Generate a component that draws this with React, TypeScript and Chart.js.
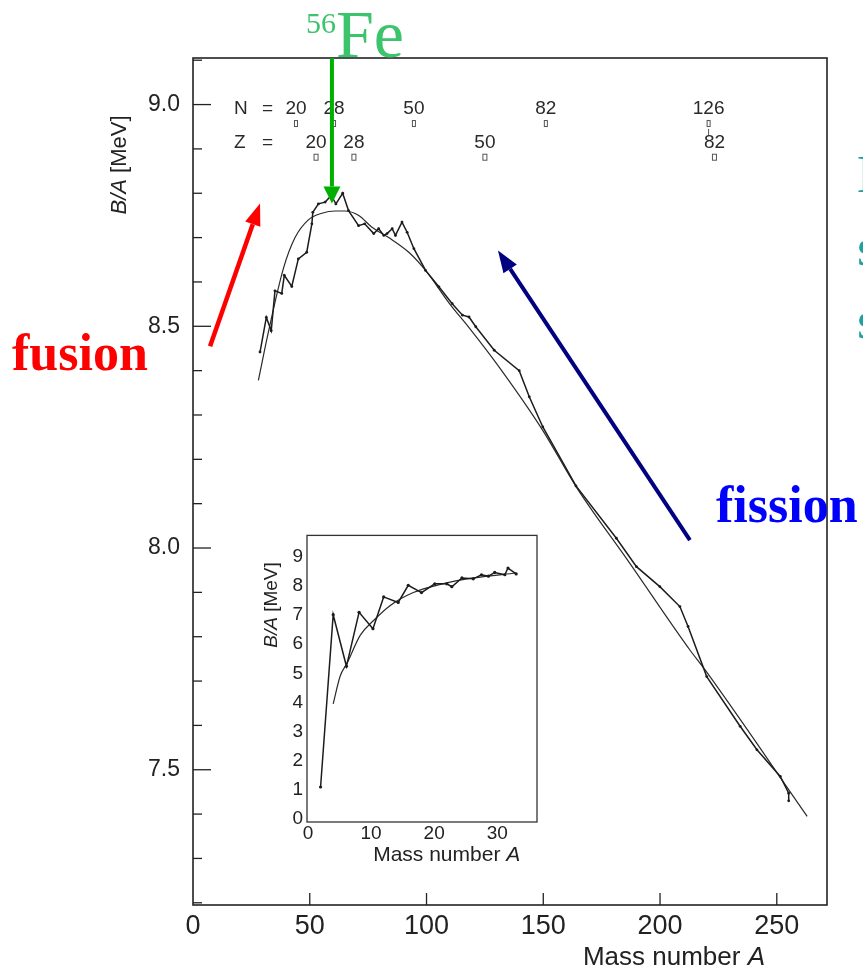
import React, { useEffect, useRef } from 'react';
import { Chart, registerables } from 'chart.js';
Chart.register(...registerables);

// ---------- Main chart data (mass number A, B/A in MeV) ----------
const expA = [28.7, 31.4, 33.5, 35.1, 38, 39.1, 42.3, 45.1, 48.7, 50.9, 51.3, 53.7, 56.6, 59.2, 61.2, 64.1, 66.6, 70.9, 73.5, 77.4, 79.5, 81.7, 83.1, 85.3, 86.7, 89.5, 91.7, 94.6, 99.6, 105.3, 111, 115.4, 118.2, 121.1, 129, 139.7, 144, 149.8, 164, 181.3, 189.9, 199.9, 208.5, 212, 220, 234.3, 241.5, 251.5, 255.1, 255.1];
const expBA = [8.442, 8.52, 8.49, 8.58, 8.574, 8.615, 8.59, 8.652, 8.667, 8.731, 8.757, 8.776, 8.78, 8.795, 8.776, 8.8, 8.761, 8.727, 8.731, 8.709, 8.72, 8.705, 8.709, 8.72, 8.705, 8.735, 8.712, 8.675, 8.626, 8.589, 8.551, 8.525, 8.521, 8.499, 8.446, 8.4, 8.341, 8.273, 8.14, 8.022, 7.958, 7.913, 7.868, 7.823, 7.71, 7.598, 7.545, 7.485, 7.447, 7.43];

const fitA = [28, 32, 38.7, 43.7, 49.4, 55.2, 61, 65, 71, 76.5, 83.8, 92.4, 99.6, 110, 118.2, 131.1, 149.7, 164.1, 187, 212.8, 219.3, 263];
const fitBA = [8.378, 8.48, 8.63, 8.7, 8.74, 8.755, 8.76, 8.76, 8.75, 8.724, 8.7, 8.667, 8.626, 8.55, 8.497, 8.408, 8.266, 8.138, 7.966, 7.77, 7.725, 7.395];

const xTicks = [0, 50, 100, 150, 200, 250];
const xTickLabels = ['0', '50', '100', '150', '200', '250'];
const yTicks = [7.5, 8.0, 8.5, 9.0];
const yTickLabels = ['7.5', '8.0', '8.5', '9.0'];

// magic numbers (annotation row)
const magicNLabels = ['20', '28', '50', '82', '126'];
const magicNA = [44.1, 60.4, 94.6, 151.1, 220.8];
const magicZLabels = ['20', '28', '50', '82'];
const magicZA = [52.7, 68.9, 125.0, 223.3];

// ---------- Inset data ----------
const insetExpA = [2, 4, 6.1, 8.1, 10.3, 12, 14.3, 15.9, 18, 20.1, 22, 22.8, 24.4, 26.2, 27.5, 28.6, 29.6, 31.2, 31.7, 33.0];
const insetExpBA = [1.1, 7.01, 5.24, 7.09, 6.53, 7.62, 7.43, 8.02, 7.77, 8.07, 8.07, 7.97, 8.27, 8.24, 8.38, 8.33, 8.46, 8.38, 8.61, 8.41];
const insetFitA = [4, 5.1, 6.2, 8.3, 10.4, 13, 16.7, 21, 26.2, 33];
const insetFitBA = [3.95, 4.9, 5.35, 6.31, 6.81, 7.32, 7.77, 8.05, 8.27, 8.44];
const insetXTicks = [0, 10, 20, 30];
const insetXTickLabels = ['0', '10', '20', '30'];
const insetYTicks = [0, 1, 2, 3, 4, 5, 6, 7, 8, 9];
const insetYTickLabels = ['0', '1', '2', '3', '4', '5', '6', '7', '8', '9'];

const SANS = '"Liberation Sans", Arial, Helvetica, sans-serif';
const SERIF = '"Liberation Serif", "Times New Roman", Times, serif';

function arrow(ctx: CanvasRenderingContext2D, x1: number, y1: number, x2: number, y2: number, color: string, lw: number, headLen: number, headW: number) {
  const ang = Math.atan2(y2 - y1, x2 - x1);
  const bx = x2 - headLen * Math.cos(ang);
  const by = y2 - headLen * Math.sin(ang);
  ctx.save();
  ctx.strokeStyle = color;
  ctx.lineWidth = lw;
  ctx.beginPath();
  ctx.moveTo(x1, y1);
  ctx.lineTo(bx, by);
  ctx.stroke();
  ctx.fillStyle = color;
  ctx.beginPath();
  ctx.moveTo(x2, y2);
  ctx.lineTo(bx + (headW / 2) * Math.sin(ang), by - (headW / 2) * Math.cos(ang));
  ctx.lineTo(bx - (headW / 2) * Math.sin(ang), by + (headW / 2) * Math.cos(ang));
  ctx.closePath();
  ctx.fill();
  ctx.restore();
}

const mainDecor = {
  id: 'mainDecor',
  beforeDatasetsDraw(chart: any) {
    const { ctx, chartArea: a, scales } = chart;
    const xs = scales.x, ys = scales.y;
    ctx.save();
    ctx.strokeStyle = '#222';
    ctx.lineWidth = 1.6;
    ctx.strokeRect(a.left, a.top, a.right - a.left, a.bottom - a.top);
    // inward ticks
    ctx.lineWidth = 1.3;
    for (let v = 7.2; v <= 9.1; v += 0.1) {
      const y = ys.getPixelForValue(v);
      const major = Math.abs(v * 2 - Math.round(v * 2)) < 1e-6;
      ctx.beginPath();
      ctx.moveTo(a.left, y);
      ctx.lineTo(a.left + (major ? 18 : 9), y);
      ctx.stroke();
    }
    xTicks.forEach((v) => {
      if (v === 0) return;
      const x = xs.getPixelForValue(v);
      ctx.beginPath();
      ctx.moveTo(x, a.bottom);
      ctx.lineTo(x, a.bottom - 12);
      ctx.stroke();
    });
    // magic numbers
    ctx.fillStyle = '#2a2a2a';
    ctx.font = `19px ${SANS}`;
    ctx.textBaseline = 'middle';
    ctx.textAlign = 'left';
    const yN = ys.getPixelForValue(8.99);
    const yZ = ys.getPixelForValue(8.914);
    ctx.fillText('N', 234, yN);
    ctx.fillText('=', 262, yN);
    ctx.fillText('Z', 234, yZ);
    ctx.fillText('=', 262, yZ);
    ctx.textAlign = 'center';
    ctx.strokeStyle = '#555';
    ctx.lineWidth = 1;
    magicNLabels.forEach((t, i) => {
      const x = xs.getPixelForValue(magicNA[i]);
      ctx.fillText(t, x, yN);
      ctx.strokeRect(x - 1.5, ys.getPixelForValue(8.964), 3, 6);
      if (t === '126') {
        ctx.beginPath();
        ctx.moveTo(x, ys.getPixelForValue(8.945));
        ctx.lineTo(x, ys.getPixelForValue(8.93));
        ctx.stroke();
      }
    });
    magicZLabels.forEach((t, i) => {
      const x = xs.getPixelForValue(magicZA[i]);
      ctx.fillText(t, x, yZ);
      ctx.strokeRect(x - 2, ys.getPixelForValue(8.888), 4, 6);
    });
    ctx.restore();
  },
  afterDraw(chart: any) {
    const { ctx, scales } = chart;
    const xs = scales.x, ys = scales.y;
    ctx.save();
    // y title
    ctx.save();
    ctx.translate(120, 165);
    ctx.rotate(-Math.PI / 2);
    ctx.fillStyle = '#222';
    ctx.textBaseline = 'middle';
    ctx.font = `italic 22px ${SANS}`;
    const t1 = 'B/A';
    const w1 = ctx.measureText(t1).width;
    ctx.font = `22px ${SANS}`;
    const t2 = ' [MeV]';
    const w2 = ctx.measureText(t2).width;
    const start = -(w1 + w2) / 2;
    ctx.textAlign = 'left';
    ctx.font = `italic 22px ${SANS}`;
    ctx.fillText(t1, start, 0);
    ctx.font = `22px ${SANS}`;
    ctx.fillText(t2, start + w1, 0);
    ctx.restore();
    // x title
    ctx.fillStyle = '#222';
    ctx.textBaseline = 'middle';
    ctx.textAlign = 'left';
    ctx.font = `26px ${SANS}`;
    const m1 = 'Mass number ';
    const mw = ctx.measureText(m1).width;
    ctx.font = `italic 26px ${SANS}`;
    const aw = ctx.measureText('A').width;
    const sx = 765 - mw - aw;
    ctx.font = `26px ${SANS}`;
    ctx.fillText(m1, sx, 958);
    ctx.font = `italic 26px ${SANS}`;
    ctx.fillText('A', sx + mw, 958);

    // arrows
    const top = chart.chartArea.top;
    arrow(ctx, xs.getPixelForValue(59.5), top, xs.getPixelForValue(59.5), ys.getPixelForValue(8.777), '#00b000', 4, 17, 17);
    arrow(ctx, xs.getPixelForValue(7.3), ys.getPixelForValue(8.455), xs.getPixelForValue(28.7), ys.getPixelForValue(8.777), '#ff0000', 4.5, 22, 16);
    arrow(ctx, xs.getPixelForValue(212.8), ys.getPixelForValue(8.018), xs.getPixelForValue(130.6), ys.getPixelForValue(8.671), '#000080', 4, 22, 16);

    // labels
    ctx.textBaseline = 'alphabetic';
    ctx.textAlign = 'left';
    ctx.fillStyle = '#3cc46c';
    ctx.font = `30px ${SERIF}`;
    ctx.fillText('56', 306, 33);
    ctx.font = `68px ${SERIF}`;
    ctx.fillText('Fe', 336, 57);

    ctx.fillStyle = '#ff0000';
    ctx.font = `bold 52px ${SERIF}`;
    ctx.fillText('fusion', 12, 370);

    ctx.fillStyle = '#0000ff';
    ctx.font = `bold 52px ${SERIF}`;
    ctx.fillText('fission', 716, 522);

    ctx.fillStyle = '#22a0a0';
    ctx.font = `52px ${SERIF}`;
    ctx.fillText('N', 857, 192);
    ctx.fillText('s', 857, 265);
    ctx.fillText('s', 857, 338);
    ctx.restore();
  },
};

const insetDecor = {
  id: 'insetDecor',
  beforeDraw(chart: any) {
    const { ctx, chartArea: a } = chart;
    ctx.save();
    ctx.fillStyle = '#fff';
    ctx.fillRect(a.left, a.top, a.right - a.left, a.bottom - a.top);
    ctx.restore();
  },
  beforeDatasetsDraw(chart: any) {
    const { ctx, chartArea: a } = chart;
    ctx.save();
    ctx.strokeStyle = '#333';
    ctx.lineWidth = 1.3;
    ctx.strokeRect(a.left, a.top, a.right - a.left, a.bottom - a.top);
    ctx.restore();
  },
  afterDraw(chart: any) {
    const { ctx } = chart;
    ctx.save();
    ctx.fillStyle = '#222';
    ctx.textBaseline = 'middle';
    // x title (canvas origin is at page 240,520)
    ctx.font = `21px ${SANS}`;
    const m1 = 'Mass number ';
    const mw = ctx.measureText(m1).width;
    ctx.font = `italic 21px ${SANS}`;
    const aw = ctx.measureText('A').width;
    const cx = 446.7 - 240;
    const sx = cx - (mw + aw) / 2;
    ctx.textAlign = 'left';
    ctx.font = `21px ${SANS}`;
    ctx.fillText(m1, sx, 855 - 520);
    ctx.font = `italic 21px ${SANS}`;
    ctx.fillText('A', sx + mw, 855 - 520);
    // y title
    ctx.translate(271.7 - 240, 605 - 520);
    ctx.rotate(-Math.PI / 2);
    ctx.font = `italic 19px ${SANS}`;
    const w1 = ctx.measureText('B/A').width;
    ctx.font = `19px ${SANS}`;
    const w2 = ctx.measureText(' [MeV]').width;
    const st = -(w1 + w2) / 2;
    ctx.font = `italic 19px ${SANS}`;
    ctx.fillText('B/A', st, 0);
    ctx.font = `19px ${SANS}`;
    ctx.fillText(' [MeV]', st + w1, 0);
    ctx.restore();
  },
};

function MainChart() {
  const ref = useRef<HTMLCanvasElement>(null);
  useEffect(() => {
    const chart = new Chart(ref.current as HTMLCanvasElement, {
      type: 'line',
      data: {
        datasets: [
          {
            data: expA.map((a, i) => ({ x: a, y: expBA[i] })),
            borderColor: '#1c1c1c',
            backgroundColor: '#1c1c1c',
            borderWidth: 1.5,
            pointRadius: 1.4,
            pointBorderWidth: 0,
            tension: 0,
            fill: false,
          },
          {
            data: fitA.map((a, i) => ({ x: a, y: fitBA[i] })),
            borderColor: '#2a2a2a',
            borderWidth: 1.2,
            pointRadius: 0,
            cubicInterpolationMode: 'monotone',
            fill: false,
          },
        ],
      },
      options: {
        responsive: false,
        animation: false,
        devicePixelRatio: 1,
        layout: { padding: { left: 0, right: 36, top: 58, bottom: 0 } },
        plugins: { legend: { display: false }, tooltip: { enabled: false }, title: { display: false } },
        scales: {
          x: {
            type: 'linear',
            min: 0,
            max: 271.5,
            afterFit: (s: any) => { s.height = 70; },
            afterBuildTicks: (s: any) => { s.ticks = xTicks.map((v) => ({ value: v })); },
            grid: { display: false, drawTicks: false },
            border: { display: false },
            ticks: {
              callback: (_v: any, i: number) => xTickLabels[i],
              font: { family: SANS, size: 27 },
              color: '#222',
              padding: 5,
              maxRotation: 0,
              autoSkip: false,
            },
          },
          y: {
            type: 'linear',
            min: 7.195,
            max: 9.105,
            afterFit: (s: any) => { s.width = 193; },
            afterBuildTicks: (s: any) => { s.ticks = yTicks.map((v) => ({ value: v })); },
            grid: { display: false, drawTicks: false },
            border: { display: false },
            ticks: {
              callback: (_v: any, i: number) => yTickLabels[i],
              font: { family: SANS, size: 23 },
              color: '#222',
              padding: 13,
              autoSkip: false,
            },
          },
        },
      },
      plugins: [mainDecor],
    } as any);
    return () => chart.destroy();
  }, []);
  return <canvas ref={ref} width={863} height={975} style={{ position: 'absolute', left: 0, top: 0, width: 863, height: 975 }} />;
}

function InsetChart() {
  const ref = useRef<HTMLCanvasElement>(null);
  useEffect(() => {
    const chart = new Chart(ref.current as HTMLCanvasElement, {
      type: 'line',
      data: {
        datasets: [
          {
            data: insetExpA.map((a, i) => ({ x: a, y: insetExpBA[i] })),
            borderColor: '#1c1c1c',
            backgroundColor: '#1c1c1c',
            borderWidth: 1.5,
            pointRadius: 1.6,
            pointBorderWidth: 0,
            tension: 0,
            fill: false,
          },
          {
            data: insetFitA.map((a, i) => ({ x: a, y: insetFitBA[i] })),
            borderColor: '#2a2a2a',
            borderWidth: 1.2,
            pointRadius: 0,
            cubicInterpolationMode: 'monotone',
            fill: false,
          },
        ],
      },
      options: {
        responsive: false,
        animation: false,
        devicePixelRatio: 1,
        layout: { padding: { left: 0, right: 23, top: 10, bottom: 0 } },
        plugins: { legend: { display: false }, tooltip: { enabled: false }, title: { display: false } },
        scales: {
          x: {
            type: 'linear',
            min: -0.15,
            max: 36.3,
            afterFit: (s: any) => { s.height = 58; },
            afterBuildTicks: (s: any) => { s.ticks = insetXTicks.map((v) => ({ value: v })); },
            grid: { display: false, drawTicks: false },
            border: { display: false },
            ticks: {
              callback: (_v: any, i: number) => insetXTickLabels[i],
              font: { family: SANS, size: 19 },
              color: '#222',
              padding: 0,
              maxRotation: 0,
              autoSkip: false,
            },
          },
          y: {
            type: 'linear',
            min: -0.1,
            max: 9.73,
            afterFit: (s: any) => { s.width = 67; },
            afterBuildTicks: (s: any) => { s.ticks = insetYTicks.map((v) => ({ value: v })); },
            grid: { display: false, drawTicks: false },
            border: { display: false },
            ticks: {
              callback: (_v: any, i: number) => insetYTickLabels[i],
              font: { family: SANS, size: 19 },
              color: '#222',
              padding: 4,
              autoSkip: false,
            },
          },
        },
      },
      plugins: [insetDecor],
    } as any);
    return () => chart.destroy();
  }, []);
  return <canvas ref={ref} width={320} height={360} style={{ position: 'absolute', left: 240, top: 520, width: 320, height: 360 }} />;
}

export default function App() {
  return (
    <div style={{ position: 'absolute', left: 0, top: 0, width: 863, height: 975, background: '#fff', overflow: 'hidden' }}>
      <MainChart />
      <InsetChart />
    </div>
  );
}
